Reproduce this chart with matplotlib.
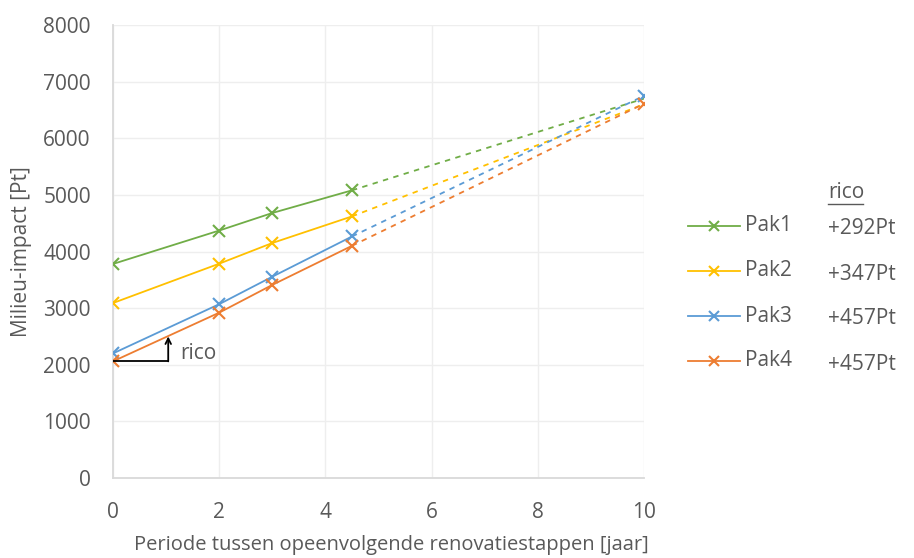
import matplotlib
matplotlib.use("Agg")
import matplotlib.pyplot as plt
from matplotlib.lines import Line2D

plt.rcParams['font.family'] = ['Open Sans', 'DejaVu Sans']

# Periods (years) and environmental impact per package
periods = [0, 2, 3, 4.5]
pak1 = [3780, 4370, 4680, 5080]
pak2 = [3090, 3785, 4150, 4620]
pak3 = [2200, 3070, 3555, 4265]
pak4 = [2060, 2920, 3410, 4100]

# Extrapolated values at 10 years
period_end = 10
pak_end = {"Pak1": 6700, "Pak2": 6600, "Pak3": 6750, "Pak4": 6610}
end_marker = {"Pak1": False, "Pak2": False, "Pak3": True, "Pak4": True}

names = ["Pak1", "Pak2", "Pak3", "Pak4"]
series = [pak1, pak2, pak3, pak4]
colors = ["#70ad47", "#ffc000", "#5b9bd5", "#ed7d31"]
rico = ["+292Pt", "+347Pt", "+457Pt", "+457Pt"]

x_ticks = [0, 2, 4, 6, 8, 10]
y_ticks = [0, 1000, 2000, 3000, 4000, 5000, 6000, 7000, 8000]

text_col = "#595959"
fs = 15
W, H = 914, 558
fig = plt.figure(figsize=(W / 100, H / 100), dpi=100)
ax = fig.add_axes([113 / W, 1 - 478 / H, (644 - 113) / W, (478 - 25) / H])

for name, vals, col in zip(names, series, colors):
    ax.plot(periods, vals, color=col, lw=1.3, marker="x", ms=8, mew=1.5, zorder=3)
    ax.plot([periods[-1], period_end], [vals[-1], pak_end[name]], color=col,
            lw=1.3, ls=(0, (3, 3)), zorder=2)
    if end_marker[name]:
        ax.plot([period_end], [pak_end[name]], color=col, marker="x", ms=8,
                mew=1.5, ls="none", zorder=3)

# slope indicator
rx0, ry0 = 0, pak4[0]
rx1 = 1.04
ry1 = 2500
ax.plot([rx0, rx1], [ry0, ry0], color="black", lw=1.3, zorder=4)
ax.annotate("", xy=(rx1, ry1), xytext=(rx1, ry0),
            arrowprops=dict(arrowstyle="->", color="black", lw=1.3,
                            shrinkA=0, shrinkB=0), zorder=4)
ax.text(1.26, 2200, "rico", fontsize=fs, color=text_col, va="center", ha="left")

ax.set_xlim(0, 10)
ax.set_ylim(0, 8000)
ax.set_xticks(x_ticks)
ax.set_yticks(y_ticks)
ax.set_xticklabels([str(t) for t in x_ticks])
ax.grid(True, color="#eeeeee", lw=1.0, zorder=0)
ax.set_axisbelow(True)
for s in ["top", "right"]:
    ax.spines[s].set_visible(False)
for s in ["left", "bottom"]:
    ax.spines[s].set_color("#d9d9d9")
    ax.spines[s].set_linewidth(1.3)
ax.tick_params(length=0, labelsize=fs, labelcolor=text_col)
ax.tick_params(axis="y", pad=16)
ax.tick_params(axis="x", pad=17)
ax.set_ylabel("Milieu-impact [Pt]", fontsize=fs, color=text_col, labelpad=8)
ax.set_xlabel("Periode tussen opeenvolgende renovatiestappen [jaar]",
              fontsize=14.5, color=text_col, va="center")
ax.xaxis.set_label_coords(0.524, -(545 - 478) / (478 - 25))

# legend rows drawn in figure coordinates, with the slope column alongside
row_y = [226, 271, 316, 361]
for name, col, r, yp in zip(names, colors, rico, row_y):
    fy = 1 - yp / H
    fig.add_artist(Line2D([688 / W, 740 / W], [fy, fy], color=col, lw=1.3))
    fig.add_artist(Line2D([714 / W], [fy], color=col, marker="x", ms=7,
                          mew=1.5, ls="none"))
    fig.text(745 / W, fy, name, fontsize=fs, color=text_col,
             ha="left", va="center")
    fig.text(828 / W, fy - 3 / H, r, fontsize=fs, color=text_col,
             ha="left", va="center")

fig.text(828 / W, 1 - 192 / H, "rico", fontsize=fs, color=text_col,
         ha="left", va="center")
fig.add_artist(Line2D([828 / W, 863 / W], [1 - 204 / H, 1 - 204 / H],
                      color=text_col, lw=1.0))

fig.savefig("out.png", dpi=100)
